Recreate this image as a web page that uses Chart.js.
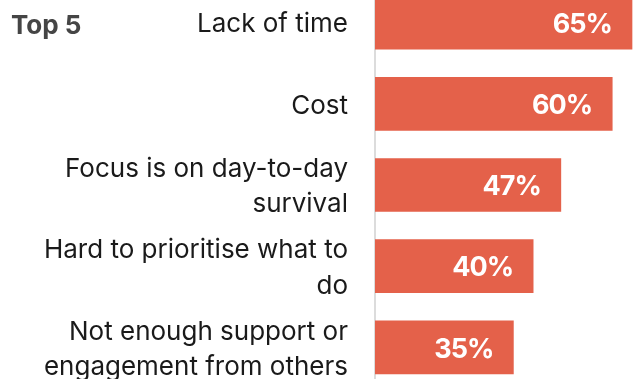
<!DOCTYPE html>
<html>
<head>
<meta charset="utf-8">
<script src="https://cdn.jsdelivr.net/npm/chart.js@4.4.1/dist/chart.umd.min.js"></script>
<style>
  html, body { margin: 0; padding: 0; background: #ffffff; overflow: hidden; }
  body { width: 633px; height: 379px; position: relative; }
  #wrap { position: absolute; left: 0; top: -18px; width: 633px; height: 406px; }
  #title {
    position: absolute; left: 11px; top: 12px;
    font-family: Inter, sans-serif; font-weight: 700; font-size: 26px; line-height: 26px;
    color: #454545;
  }
</style>
</head>
<body>
<div id="wrap"><canvas id="chart"></canvas></div>
<div id="title">Top 5</div>
<script>
// Reasons given, most common first
const categories = [
  "Lack of time",
  "Cost",
  ["Focus is on day-to-day", "survival"],
  ["Hard to prioritise what to", "do"],
  ["Not enough support or", "engagement from others"]
];
// Share of respondents (%)
const shares = [65, 60, 47, 40, 35];

const BAR_COLOR = "#E4614A";

// Writes each value in white, right-aligned inside its bar
const valueLabels = {
  id: "valueLabels",
  afterDatasetsDraw(chart) {
    const ctx = chart.ctx;
    const meta = chart.getDatasetMeta(0);
    ctx.save();
    ctx.font = "700 27px Inter, sans-serif";
    ctx.letterSpacing = "-1px";
    ctx.fillStyle = "#ffffff";
    ctx.textAlign = "right";
    ctx.textBaseline = "middle";
    meta.data.forEach((bar, i) => {
      ctx.fillText(shares[i] + "%", bar.x - 20, bar.y + 2);
    });
    ctx.restore();
  }
};

new Chart(document.getElementById("chart"), {
  type: "bar",
  data: {
    labels: categories,
    datasets: [{
      data: shares,
      backgroundColor: BAR_COLOR,
      borderWidth: 0,
      barThickness: 53
    }]
  },
  options: {
    indexAxis: "y",
    responsive: true,
    maintainAspectRatio: false,
    animation: false,
    layout: { padding: 0 },
    plugins: {
      legend: { display: false },
      tooltip: { enabled: false }
    },
    scales: {
      x: {
        display: false,
        min: 0,
        max: 65.25
      },
      y: {
        afterFit(scale) {
          // fixed label column; let the bar rows use the full height
          scale.width = 375;
          scale.paddingTop = 0;
          scale.paddingBottom = 0;
        },
        grid: { display: false, drawTicks: false },
        border: { display: true, color: "#dcdcdc", width: 2 },
        ticks: {
          padding: 27,
          labelOffset: 2,
          color: "#1a1a1a",
          font: { family: "Inter, sans-serif", size: 26, lineHeight: 1.35 }
        }
      }
    }
  },
  plugins: [valueLabels]
});
</script>
</body>
</html>
